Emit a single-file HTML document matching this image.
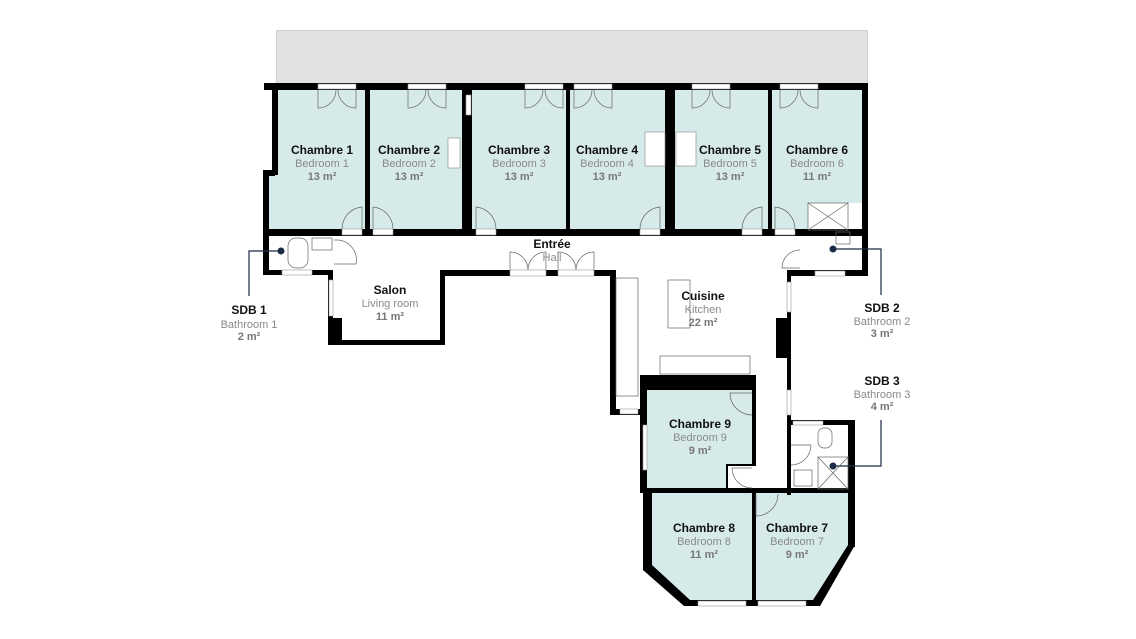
<!DOCTYPE html>
<html><head><meta charset="utf-8"><style>
html,body{margin:0;padding:0;background:#fff;}
svg{display:block;}
text{font-family:"Liberation Sans",sans-serif;text-anchor:middle;}
.t{font-weight:bold;font-size:12px;fill:#111;}
.s{font-size:11px;fill:#8a8a8a;}
.a{font-size:11px;fill:#777;font-weight:bold;}
</style></head><body>
<svg width="1136" height="639" viewBox="0 0 1136 639" xmlns="http://www.w3.org/2000/svg">
<rect width="1136" height="639" fill="#fff"/>
<rect x="276.5" y="30.5" width="591" height="55" fill="#e2e2e2" stroke="#ccc"/>
<g fill="#d5eae9">
<polygon points="276,90 365,90 365,230 268,230 268,172 276,172"/>
<rect x="370" y="90" width="92" height="140"/>
<rect x="472" y="90" width="94" height="140"/>
<rect x="570" y="90" width="95" height="140"/>
<rect x="675" y="90" width="93" height="140"/>
<polygon points="772,90 862,90 862,203 808,203 808,230 772,230"/>
<polygon points="647,390 752,390 752,466 728,466 728,490 647,490"/>
<polygon points="652,493 752,493 752,600 690,600 652,565"/>
<polygon points="756,493 848,493 848,545 815,600 756,600"/>
</g>
<g fill="#000">
<rect x="264" y="83" width="604" height="7"/>
<rect x="272" y="83" width="6" height="92"/>
<rect x="263" y="170" width="12" height="6"/>
<rect x="263" y="170" width="6" height="105"/>
<rect x="263" y="229" width="605" height="7"/>
<rect x="365" y="88" width="5" height="145"/>
<rect x="462" y="88" width="10" height="145"/>
<rect x="566" y="88" width="4" height="145"/>
<rect x="665" y="88" width="10" height="145"/>
<rect x="768" y="88" width="4" height="145"/>
<rect x="862" y="83" width="6" height="193"/>
<rect x="263" y="270" width="68" height="5"/>
<rect x="328" y="270" width="5" height="75"/>
<rect x="328" y="318" width="14" height="27"/>
<rect x="328" y="340" width="117" height="5"/>
<rect x="440" y="270" width="5" height="75"/>
<rect x="440" y="270" width="172" height="6"/>
<rect x="610" y="270" width="6" height="145"/>
<rect x="610" y="409" width="30" height="6"/>
<rect x="787" y="270" width="81" height="6"/>
<rect x="787" y="270" width="4" height="155"/>
<rect x="776" y="318" width="12" height="40"/>
<rect x="640" y="375" width="113" height="15"/>
<rect x="640" y="375" width="7" height="118"/>
<rect x="752" y="375" width="4" height="90"/>
<rect x="726" y="464" width="30" height="2"/>
<rect x="726" y="464" width="2" height="26"/>
<rect x="643" y="488" width="113" height="5"/>
<rect x="643" y="488" width="9" height="80"/>
<polygon points="643,565 652,565 690,600 690,606 684,606 643,570"/>
<rect x="684" y="600" width="136" height="6"/>
<polygon points="848,545 855,545 820,606 813,600"/>
<rect x="848" y="420" width="7" height="127"/>
<rect x="787" y="420" width="68" height="5"/>
<rect x="787" y="420" width="4" height="75"/>
<rect x="752" y="488" width="4" height="118"/>
<rect x="756" y="488" width="96" height="5"/>
</g>
<g fill="#fff" stroke="#999" stroke-width="0.6">
<rect x="318" y="84" width="38" height="5"/><rect x="408" y="84" width="38" height="5"/>
<rect x="525" y="84" width="38" height="5"/><rect x="574" y="84" width="38" height="5"/>
<rect x="692" y="84" width="38" height="5"/><rect x="780" y="84" width="38" height="5"/>
<rect x="466" y="95" width="5" height="20"/>
<rect x="342" y="229" width="20" height="6"/><rect x="373" y="229" width="20" height="6"/>
<rect x="476" y="229" width="20" height="6"/><rect x="640" y="229" width="20" height="6"/>
<rect x="742" y="229" width="20" height="6"/><rect x="775" y="229" width="20" height="6"/>
<rect x="282" y="270" width="30" height="5"/><rect x="510" y="270" width="36" height="6"/>
<rect x="558" y="270" width="36" height="6"/><rect x="815" y="271" width="30" height="5"/>
<rect x="329" y="280" width="4" height="36"/><rect x="787" y="282" width="4" height="30"/>
<rect x="787" y="390" width="4" height="25"/><rect x="793" y="421" width="30" height="4"/>
<rect x="643" y="425" width="4" height="45"/><rect x="620" y="409" width="18" height="5"/>
<rect x="698" y="601" width="48" height="5"/><rect x="758" y="601" width="48" height="5"/>
</g>
<g fill="none" stroke="#666" stroke-width="0.7">
<path d="M318,90 v18 a18,18 0 0 0 18,-18 M356,90 v18 a18,18 0 0 1 -18,-18"/>
<path d="M408,90 v18 a18,18 0 0 0 18,-18 M446,90 v18 a18,18 0 0 1 -18,-18"/>
<path d="M525,90 v18 a18,18 0 0 0 18,-18 M563,90 v18 a18,18 0 0 1 -18,-18"/>
<path d="M574,90 v18 a18,18 0 0 0 18,-18 M612,90 v18 a18,18 0 0 1 -18,-18"/>
<path d="M692,90 v18 a18,18 0 0 0 18,-18 M730,90 v18 a18,18 0 0 1 -18,-18"/>
<path d="M780,90 v18 a18,18 0 0 0 18,-18 M818,90 v18 a18,18 0 0 1 -18,-18"/>
<path d="M362,229 v-22 a22,22 0 0 0 -20,22"/><path d="M373,229 v-22 a22,22 0 0 1 20,22"/>
<path d="M476,229 v-22 a22,22 0 0 1 20,22"/><path d="M660,229 v-22 a22,22 0 0 0 -20,22"/>
<path d="M762,229 v-22 a22,22 0 0 0 -20,22"/><path d="M775,229 v-22 a22,22 0 0 1 20,22"/>
<path d="M510,270 v-18 a18,18 0 0 1 18,18 M546,270 v-18 a18,18 0 0 0 -18,18"/>
<path d="M558,270 v-18 a18,18 0 0 1 18,18 M594,270 v-18 a18,18 0 0 0 -18,18"/>
<path d="M334,240 h4 a20,20 0 0 1 18,24 h-22"/>
<path d="M800,250 a18,18 0 0 0 -18,18 h18"/>
<path d="M752,393 h-22 a22,22 0 0 0 22,22"/>
<path d="M752,468 h-20 a20,20 0 0 0 20,20"/>
<path d="M756,494 v22 a22,22 0 0 0 22,-22"/>
<path d="M791,445 h20 a20,20 0 0 1 -20,20"/>
<rect x="668" y="280" width="22" height="48"/>
<rect x="616" y="278" width="22" height="118"/>
<rect x="660" y="356" width="90" height="18"/>
<rect x="808" y="203" width="40" height="27"/><path d="M808,203 L848,230 M848,203 L808,230"/>
<rect x="818" y="457" width="30" height="32"/><path d="M818,457 L848,489 M848,457 L818,489"/>
<rect x="288" y="238" width="20" height="30" rx="8"/><rect x="312" y="238" width="20" height="12"/>
<rect x="836" y="232" width="14" height="12"/><rect x="818" y="428" width="14" height="20" rx="6"/>
<rect x="794" y="470" width="18" height="16"/>
</g>
<g fill="#fff" stroke="#888" stroke-width="0.6">
<rect x="448" y="138" width="12" height="30"/><rect x="645" y="132" width="20" height="34"/><rect x="676" y="132" width="20" height="34"/>
</g>
<g stroke="#1c2b45" stroke-width="1.2" fill="none">
<path d="M281,251 H249 V296"/><path d="M833,249 H881 V295"/><path d="M833,466 H881 V420"/>
</g>
<g fill="#1c2b45"><circle cx="281" cy="251" r="3.5"/><circle cx="833" cy="249" r="3.5"/><circle cx="833" cy="466" r="3.5"/></g>
<text class="t" x="322" y="154">Chambre 1</text><text class="s" x="322" y="167">Bedroom 1</text><text class="a" x="322" y="180">13 m²</text>
<text class="t" x="409" y="154">Chambre 2</text><text class="s" x="409" y="167">Bedroom 2</text><text class="a" x="409" y="180">13 m²</text>
<text class="t" x="519" y="154">Chambre 3</text><text class="s" x="519" y="167">Bedroom 3</text><text class="a" x="519" y="180">13 m²</text>
<text class="t" x="607" y="154">Chambre 4</text><text class="s" x="607" y="167">Bedroom 4</text><text class="a" x="607" y="180">13 m²</text>
<text class="t" x="730" y="154">Chambre 5</text><text class="s" x="730" y="167">Bedroom 5</text><text class="a" x="730" y="180">13 m²</text>
<text class="t" x="817" y="154">Chambre 6</text><text class="s" x="817" y="167">Bedroom 6</text><text class="a" x="817" y="180">11 m²</text>
<text class="t" x="552" y="248">Entrée</text><text class="s" x="552" y="261">Hall</text>
<text class="t" x="390" y="294">Salon</text><text class="s" x="390" y="307">Living room</text><text class="a" x="390" y="320">11 m²</text>
<text class="t" x="703" y="300">Cuisine</text><text class="s" x="703" y="313">Kitchen</text><text class="a" x="703" y="326">22 m²</text>
<text class="t" x="700" y="428">Chambre 9</text><text class="s" x="700" y="441">Bedroom 9</text><text class="a" x="700" y="454">9 m²</text>
<text class="t" x="704" y="532">Chambre 8</text><text class="s" x="704" y="545">Bedroom 8</text><text class="a" x="704" y="558">11 m²</text>
<text class="t" x="797" y="532">Chambre 7</text><text class="s" x="797" y="545">Bedroom 7</text><text class="a" x="797" y="558">9 m²</text>
<text class="t" x="249" y="314">SDB 1</text><text class="s" x="249" y="328">Bathroom 1</text><text class="a" x="249" y="340">2 m²</text>
<text class="t" x="882" y="312">SDB 2</text><text class="s" x="882" y="325">Bathroom 2</text><text class="a" x="882" y="337">3 m²</text>
<text class="t" x="882" y="385">SDB 3</text><text class="s" x="882" y="398">Bathroom 3</text><text class="a" x="882" y="410">4 m²</text>
</svg>
</body></html>
